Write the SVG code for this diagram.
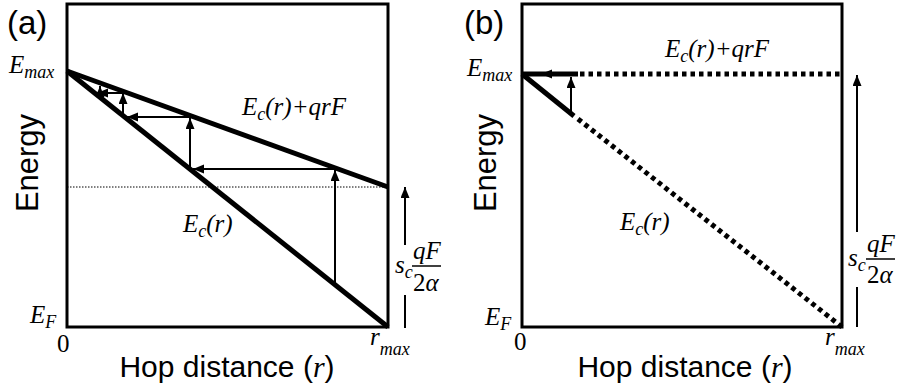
<svg xmlns="http://www.w3.org/2000/svg" width="908" height="391" viewBox="0 0 908 391">
<defs>
<marker id="ah" markerUnits="userSpaceOnUse" markerWidth="12" markerHeight="10" refX="11" refY="4.5" orient="auto">
<path d="M0,0 L11,4.5 L0,9 z" fill="#000"/>
</marker>
<style>
.box{fill:none;stroke:#000;stroke-width:3}
.thick{fill:none;stroke:#000;stroke-width:5}
.dot{fill:none;stroke:#000;stroke-width:5;stroke-dasharray:4.5 4}
.thin{fill:none;stroke:#000;stroke-width:2}
.arr{fill:none;stroke:#000;stroke-width:2;marker-end:url(#ah)}
.guide{fill:none;stroke:#000;stroke-width:1;stroke-dasharray:1.5 1.5}
.sans{font-family:"Liberation Sans",Arial,sans-serif;font-size:30px;fill:#000}
.lbl{font-family:"Liberation Sans",Arial,sans-serif;font-size:33px;fill:#000}
.m{font-family:"Liberation Serif","Times New Roman",serif;font-style:italic;font-size:25px;fill:#000}
.rm{font-family:"Liberation Serif","Times New Roman",serif;font-style:normal;font-size:25px;fill:#000}
.sub{font-size:18px}
</style>
</defs>

<g id="panel-a">
<rect class="box" x="67" y="4" width="321" height="323"/>
<line class="guide" x1="67" y1="187" x2="388" y2="187"/>
<text class="lbl" x="7" y="34">(a)</text>
<text class="sans" transform="translate(38,163) rotate(-90)" text-anchor="middle" style="font-size:31px">Energy</text>
<text class="sans" x="227" y="377" text-anchor="middle">Hop distance (<tspan class="m" style="font-size:30px">r</tspan>)</text>
<text class="m" x="9" y="73">E<tspan class="sub" dy="5">max</tspan></text>
<text class="m" x="30" y="323">E<tspan class="sub" dy="5">F</tspan></text>
<text class="rm" x="57" y="352">0</text>
<text class="m" x="370" y="345">r<tspan class="sub" dy="10">max</tspan></text>
</g>

<g id="curve-a-upper">
<line class="thick" x1="67" y1="71" x2="388" y2="187"/>
<text class="m" x="242" y="115">E<tspan class="sub" dy="5">c</tspan><tspan dy="-5">(r)+qrF</tspan></text>
</g>
<g id="curve-a-lower">
<line class="thick" x1="67" y1="71" x2="388" y2="327"/>
<text class="m" x="183" y="232">E<tspan class="sub" dy="5">c</tspan><tspan dy="-5">(r)</tspan></text>
</g>

<g id="scale-a">
<line class="thin" x1="405" y1="328" x2="405" y2="295"/>
<line class="arr" x1="405" y1="245" x2="405" y2="187"/>
<text class="m" x="395" y="273">s<tspan class="sub" dy="5">c</tspan></text>
<text class="m" x="413" y="259">qF</text>
<line x1="412" y1="266" x2="441" y2="266" stroke="#000" stroke-width="1.5"/>
<text class="rm" x="413" y="291">2<tspan class="m">α</tspan></text>
</g>

<g id="connectors-a">
<line class="arr" x1="335" y1="285" x2="335" y2="170"/>
<line class="arr" x1="335" y1="169" x2="193" y2="169"/>
<line class="arr" x1="190" y1="168" x2="190" y2="118"/>
<line class="arr" x1="190" y1="117" x2="127" y2="117"/>
<line class="arr" x1="123" y1="116" x2="123" y2="93"/>
<line class="arr" x1="123" y1="93" x2="97" y2="93"/>
<line class="arr" x1="100" y1="97" x2="100" y2="86"/>
</g>

<g id="panel-b">
<rect class="box" x="522" y="4" width="320" height="323"/>
<text class="lbl" x="464" y="34">(b)</text>
<text class="sans" transform="translate(496,163) rotate(-90)" text-anchor="middle" style="font-size:31px">Energy</text>
<text class="sans" x="685" y="377" text-anchor="middle">Hop distance (<tspan class="m" style="font-size:30px">r</tspan>)</text>
<text class="m" x="467" y="76">E<tspan class="sub" dy="5">max</tspan></text>
<text class="m" x="485" y="325">E<tspan class="sub" dy="5">F</tspan></text>
<text class="rm" x="514" y="350">0</text>
<text class="m" x="825" y="345">r<tspan class="sub" dy="10">max</tspan></text>
</g>

<g id="curve-b-upper">
<line class="thick" x1="522" y1="74" x2="578" y2="74"/>
<line class="dot" x1="580" y1="74" x2="842" y2="74"/>
<text class="m" x="665" y="57">E<tspan class="sub" dy="5">c</tspan><tspan dy="-5">(r)+qrF</tspan></text>
</g>
<g id="curve-b-lower">
<line class="thick" x1="522" y1="74" x2="574" y2="116"/>
<line class="dot" x1="578" y1="119" x2="842" y2="327"/>
<text class="m" x="620" y="230">E<tspan class="sub" dy="5">c</tspan><tspan dy="-5">(r)</tspan></text>
</g>

<g id="scale-b">
<line class="thin" x1="857" y1="327" x2="857" y2="287"/>
<line class="arr" x1="857" y1="232" x2="857" y2="75"/>
<text class="m" x="848" y="266">s<tspan class="sub" dy="5">c</tspan></text>
<text class="m" x="867" y="252">qF</text>
<line x1="866" y1="259" x2="895" y2="259" stroke="#000" stroke-width="1.5"/>
<text class="rm" x="867" y="283">2<tspan class="m">α</tspan></text>
</g>

<g id="connectors-b">
<line class="arr" x1="571" y1="116" x2="571" y2="77"/>
<path d="M541,74 L552,69.5 L552,78.5 z" fill="#000"/>
</g>
</svg>
